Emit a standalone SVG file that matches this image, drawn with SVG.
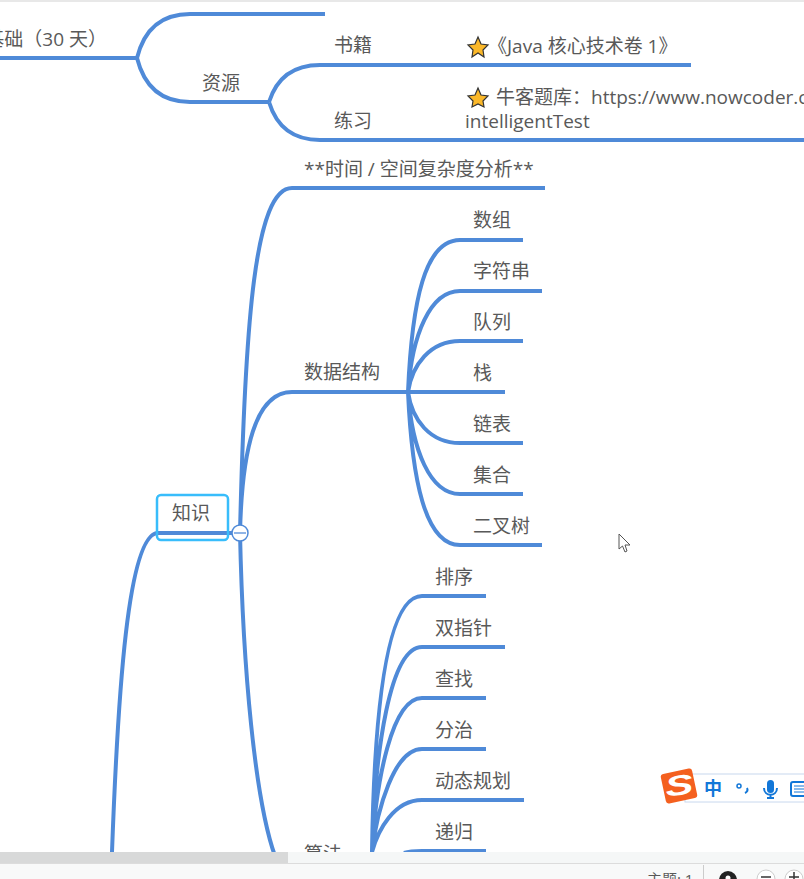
<svg xmlns="http://www.w3.org/2000/svg" width="804" height="879" viewBox="0 0 804 879">
<style>
text{font-family:"Open Sans","Noto Sans CJK SC",sans-serif;font-size:19px;fill:#595959}
.c{fill:none;stroke:#4f8ad8;stroke-width:4;stroke-linecap:butt}
.ui{fill:none;stroke:#1277d8;stroke-width:2}
</style>
<rect width="804" height="879" fill="#fff"/>
<rect width="804" height="2" fill="#e8e8e8"/>
<g id="connectors">
<path class="c" d="M0 58H137M137 58C144 30 160 14 190 14H325M137 58C144 86 160 102 190 102H269"/>
<path class="c" d="M269 102C276 80 292 65 320 65H691M269 102C276 125 292 140 320 140H804"/>
<path class="c" d="M157 533H240M157 533C128 537 118 690 112 852"/>
<path class="c" d="M240 533C245 320 255 188 292 188H545M240 533C242 450 255 392 292 392H408M240 533C243 670 255 800 275 856"/>
<path class="c" d="M408 392C412 300 425 240 460 240H523M408 392C412 335 430 291 460 291H542M408 392C412 365 430 341 460 341H523M408 392H505M408 392C412 420 430 443 460 443H523M408 392C412 450 430 494 460 494H523M408 392C412 480 425 545 460 545H542"/>
<path class="c" d="M372 852C374 720 385 596 422 596H486M372 852C375 750 390 647 422 647H505M372 852C376 780 392 698 422 698H486M372 852C377 810 394 749 422 749H486M372 852C378 830 394 800 422 800H524M404 853C410 851 416 851 422 851H486"/>
</g>
<g id="n-jichu"><text x="107" y="46" text-anchor="end">基础（30 天）</text></g>
<g id="n-ziyuan"><text x="202" y="90">资源</text></g>
<g id="n-shuji"><text x="334" y="52">书籍</text></g>
<g id="n-lianxi"><text x="334" y="128">练习</text></g>
<g id="n-java"><polygon points="478,37 481,44 488,45 483,50 484,57 478,53 472,57 473,50 468,45 475,44" fill="#fbb829" stroke="#333" stroke-width="1.2"/><text x="488" y="53">《Java 核心技术卷 1》</text></g>
<g id="n-nowcoder"><polygon points="478,88 481,95 488,96 483,101 484,107 478,104 472,107 473,101 468,96 475,95" fill="#fbb829" stroke="#333" stroke-width="1.2"/><text x="496" y="104">牛客题库：https://www.nowcoder.c</text><text x="465" y="128">intelligentTest</text></g>
<g id="n-fuza"><text x="304" y="176">**时间 / 空间复杂度分析**</text></g>
<g id="n-shuju"><text x="304" y="379">数据结构</text></g>
<g id="n-a1"><text x="473" y="227">数组</text></g>
<g id="n-a2"><text x="473" y="278">字符串</text></g>
<g id="n-a3"><text x="473" y="329">队列</text></g>
<g id="n-a4"><text x="473" y="380">栈</text></g>
<g id="n-a5"><text x="473" y="431">链表</text></g>
<g id="n-a6"><text x="473" y="482">集合</text></g>
<g id="n-a7"><text x="473" y="533">二叉树</text></g>
<g id="n-b1"><text x="435" y="584">排序</text></g>
<g id="n-b2"><text x="435" y="635">双指针</text></g>
<g id="n-b3"><text x="435" y="686">查找</text></g>
<g id="n-b4"><text x="435" y="737">分治</text></g>
<g id="n-b5"><text x="435" y="788">动态规划</text></g>
<g id="n-b6"><text x="435" y="839">递归</text></g>
<g id="n-suanfa"><text x="304" y="861">算法</text></g>
<g id="n-zhishi"><rect x="157" y="495" width="71" height="45" rx="4" fill="none" stroke="#38bdfb" stroke-width="2.5"/><text x="172" y="520">知识</text></g>
<g id="collapse"><circle cx="240" cy="533" r="8" fill="#fff" stroke="#4f8ad8" stroke-width="1.5"/><path d="M234 533H246" stroke="#8fb4e6" stroke-width="2"/></g>
<path d="M619 534V549L622.500 546 625 552 627 551 625 545H630Z" fill="#fff" stroke="#555"/>
<rect y="852" width="804" height="27" fill="#f8f9f9"/>
<rect y="852" width="288" height="11" fill="#d8d9d9"/>
<rect x="288" y="852" width="516" height="11" fill="#f5f7f7"/>
<rect y="863" width="804" height="1" fill="#dcdcdc"/>
<g id="statusbar">
<text x="647" y="885" style="font-size:15px">主题: 1</text>
<path d="M703.500 865V879" stroke="#ccc"/>
<circle cx="728" cy="880" r="9" fill="#222"/><circle cx="728" cy="878" r="2.500" fill="#fff"/>
<circle cx="766" cy="879" r="9" fill="#fff" stroke="#ccc"/><path d="M761 877H771" stroke="#333" stroke-width="1.500"/>
<circle cx="794" cy="879" r="9" fill="#fff" stroke="#ccc"/><path d="M789 877H799M794 872V879" stroke="#333" stroke-width="1.500"/>
</g>
<g id="ime">
<rect x="685" y="774" width="125" height="28" fill="#fff" stroke="#c8d8ee" stroke-width="1"/>
<rect x="663" y="771" width="32" height="30" rx="3" fill="#f4601f" transform="rotate(-12 679 786)"/>
<text x="679" y="795" text-anchor="middle" transform="rotate(-8 679 786)" textLength="28" lengthAdjust="spacingAndGlyphs" style="font-size:28px;font-weight:700;font-style:italic;fill:#fff;font-family:'Liberation Sans',sans-serif">S</text>
<text x="713" y="795" text-anchor="middle" style="font-size:18px;font-weight:700;fill:#1277d8">中</text>
<circle cx="739" cy="786" r="2" fill="none" stroke="#1277d8" stroke-width="1.500"/><path d="M747 788C748 790 747 792 745 793" class="ui"/>
<rect x="767" y="780" width="7" height="13" rx="3.500" fill="#1277d8"/><path d="M764 788C764 797 777 797 777 788M770.500 795V798M767 798H774" class="ui"/>
<rect x="791" y="782" width="20" height="14" rx="2" class="ui"/><path d="M794 786H808M794 789H808M794 792H808" stroke="#1277d8"/>
</g>
</svg>
